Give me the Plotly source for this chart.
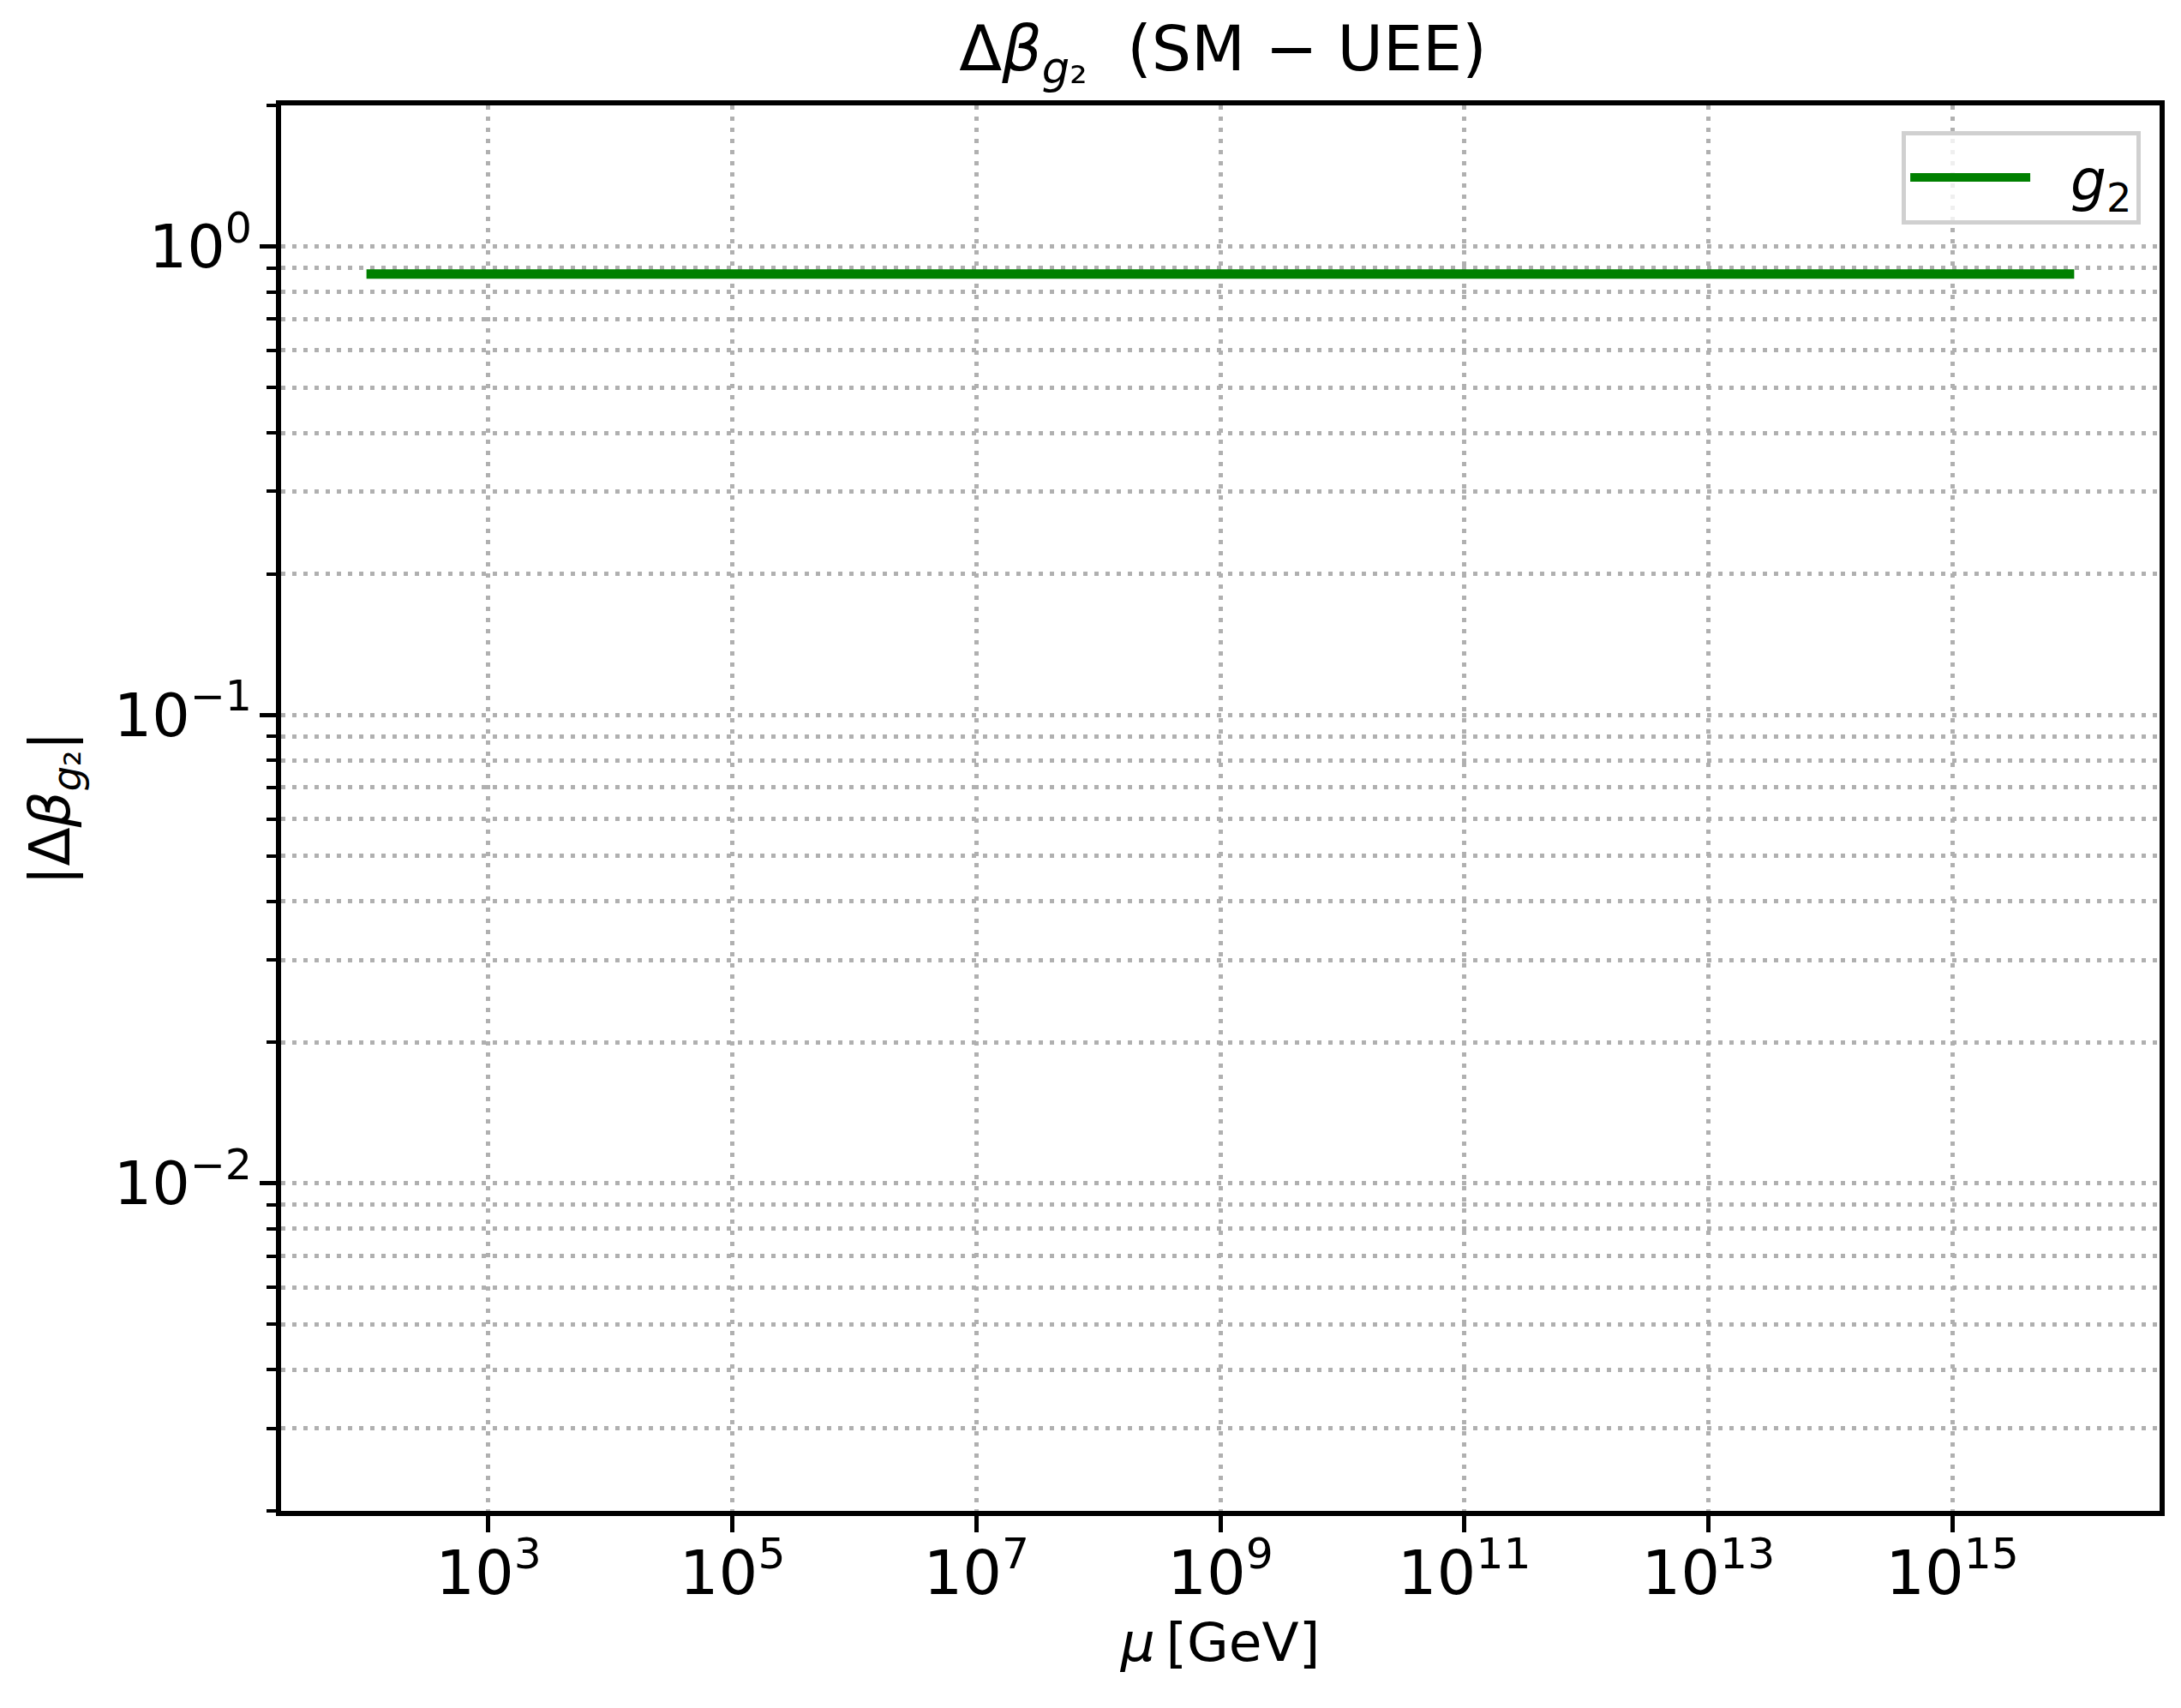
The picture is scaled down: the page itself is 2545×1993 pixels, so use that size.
import math
import plotly.graph_objects as go

# data: |Delta beta_g2| is flat over the whole range
mu_gev = [1e2, 1e16]
delta_beta_g2 = [0.873, 0.873]

x_tick_exps = [3, 5, 7, 9, 11, 13, 15]
y_tick_exps = [-2, -1, 0]
y_minor_mult = [2, 3, 4, 5, 6, 7, 8, 9]
y_minor_decades = [-3, -2, -1, 0]

x_range_log = [1.3, 16.7]
y_range = [0.002, 2.0]

FONT = "DejaVu Sans"
GRID = "#b0b0b0"

# the page body has an 8px margin, so the figure is a bit smaller than the window
W, H = 2529, 1977
ML, MR, MT, MB = 320, 11, 115, 222

x_tickvals = [10.0 ** e for e in x_tick_exps]
x_ticktext = ["10<sup>%d</sup>" % e for e in x_tick_exps]
y_tickvals = [10.0 ** e for e in y_tick_exps]
y_ticktext = ["10<sup>%s</sup>" % (str(e).replace("-", "\u2212")) for e in y_tick_exps]
y_minor = [m * 10.0 ** k for k in y_minor_decades for m in y_minor_mult
           if y_range[0] <= m * 10.0 ** k <= y_range[1]]
y_range_log = [math.log10(y_range[0]), math.log10(y_range[1])]

fig = go.Figure()

fig.add_trace(go.Scatter(
    x=mu_gev,
    y=delta_beta_g2,
    mode="lines",
    name="\u00a0\u00a0<i>g</i><sub>2</sub>",
    line=dict(color="#008000", width=11),
))

fig.update_layout(
    width=W,
    height=H,
    margin=dict(l=ML, r=MR, t=MT, b=MB),
    paper_bgcolor="white",
    plot_bgcolor="white",
    font=dict(family=FONT, size=64, color="black"),
    title=dict(
        text="\u0394<i>\u03b2</i><sub><i>g</i>\u2082</sub>  (SM \u2212 UEE)",
        x=0.5 + (ML - MR) / 2 / W,
        xanchor="center",
        yref="container",
        y=1 - 74 / H,
        yanchor="bottom",
        font=dict(family=FONT, size=73, color="black"),
    ),
    showlegend=True,
    legend=dict(
        x=0.990,
        xanchor="right",
        y=0.982,
        yanchor="top",
        bgcolor="rgba(255,255,255,0.8)",
        bordercolor="#d0d0d0",
        borderwidth=5,
        itemwidth=140,
        font=dict(family=FONT, size=66, color="black"),
    ),
)

fig.update_xaxes(
    type="log",
    range=x_range_log,
    tickmode="array",
    tickvals=x_tickvals,
    ticktext=x_ticktext,
    ticks="outside",
    ticklen=19,
    tickwidth=5,
    tickcolor="black",
    ticklabelstandoff=-14,
    tickfont=dict(family=FONT, size=72, color="black"),
    showline=True,
    linecolor="black",
    linewidth=6,
    mirror=True,
    showgrid=True,
    gridcolor=GRID,
    gridwidth=5,
    griddash="5px,8px",
    zeroline=False,
    title=dict(text="<i>\u03bc</i>\u2009[GeV]", font=dict(family=FONT, size=63, color="black"), standoff=20),
)

fig.update_yaxes(
    type="log",
    range=y_range_log,
    tickmode="array",
    tickvals=y_tickvals,
    ticktext=y_ticktext,
    ticks="outside",
    ticklen=19,
    tickwidth=5,
    tickcolor="black",
    ticklabelstandoff=-5,
    tickfont=dict(family=FONT, size=70, color="black"),
    showline=True,
    linecolor="black",
    linewidth=6,
    mirror=True,
    showgrid=True,
    gridcolor=GRID,
    gridwidth=5,
    griddash="5px,8px",
    zeroline=False,
    minor=dict(
        tickmode="array",
        tickvals=y_minor,
        ticks="outside",
        ticklen=11,
        tickwidth=4,
        tickcolor="black",
        showgrid=True,
        gridcolor=GRID,
        gridwidth=5,
        griddash="5px,8px",
    ),
    title=dict(text="|\u0394<i>\u03b2</i><sub><i>g</i>\u2082</sub>|", font=dict(family=FONT, size=66, color="black"), standoff=32),
)

fig.write_html("out.html")
